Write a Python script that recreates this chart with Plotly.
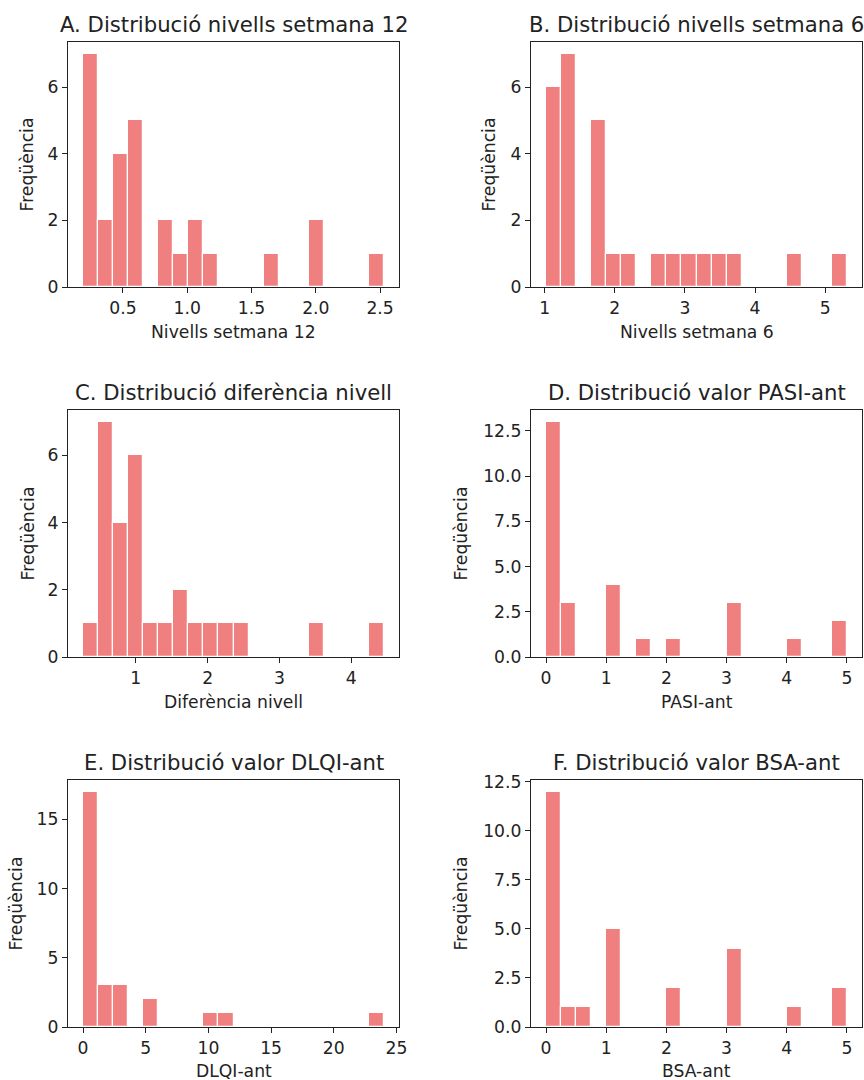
import numpy as np
import plotly.graph_objects as go

# Histogram counts (20 equal bins per variable) and the data range that the bins span
counts_a = [7, 2, 4, 5, 0, 2, 1, 2, 1, 0, 0, 0, 1, 0, 0, 2, 0, 0, 0, 1]
range_a = (0.19, 2.53)
counts_b = [6, 7, 0, 5, 1, 1, 0, 1, 1, 1, 1, 1, 1, 0, 0, 0, 1, 0, 0, 1]
range_b = (1.02, 5.31)
counts_c = [1, 7, 4, 6, 1, 1, 2, 1, 1, 1, 1, 0, 0, 0, 0, 1, 0, 0, 0, 1]
range_c = (0.265, 4.455)
counts_d = [13, 3, 0, 0, 4, 0, 1, 0, 1, 0, 0, 0, 3, 0, 0, 0, 1, 0, 0, 2]
range_d = (0.0, 5.0)
counts_e = [17, 3, 3, 0, 2, 0, 0, 0, 1, 1, 0, 0, 0, 0, 0, 0, 0, 0, 0, 1]
range_e = (0.0, 24.0)
counts_f = [12, 1, 1, 0, 5, 0, 0, 0, 2, 0, 0, 0, 4, 0, 0, 0, 1, 0, 0, 2]
range_f = (0.0, 5.0)

titles = [
    "A. Distribució nivells setmana 12",
    "B. Distribució nivells setmana 6",
    "C. Distribució diferència nivell",
    "D. Distribució valor PASI-ant",
    "E. Distribució valor DLQI-ant",
    "F. Distribució valor BSA-ant",
]
xlabels = ["Nivells setmana 12", "Nivells setmana 6", "Diferència nivell",
           "PASI-ant", "DLQI-ant", "BSA-ant"]
ylabel = "Freqüència"

xticks = [
    ([0.5, 1.0, 1.5, 2.0, 2.5], ["0.5", "1.0", "1.5", "2.0", "2.5"]),
    ([1, 2, 3, 4, 5], ["1", "2", "3", "4", "5"]),
    ([1, 2, 3, 4], ["1", "2", "3", "4"]),
    ([0, 1, 2, 3, 4, 5], ["0", "1", "2", "3", "4", "5"]),
    ([0, 5, 10, 15, 20, 25], ["0", "5", "10", "15", "20", "25"]),
    ([0, 1, 2, 3, 4, 5], ["0", "1", "2", "3", "4", "5"]),
]
yticks = [
    ([0, 2, 4, 6], ["0", "2", "4", "6"]),
    ([0, 2, 4, 6], ["0", "2", "4", "6"]),
    ([0, 2, 4, 6], ["0", "2", "4", "6"]),
    ([0, 2.5, 5, 7.5, 10, 12.5], ["0.0", "2.5", "5.0", "7.5", "10.0", "12.5"]),
    ([0, 5, 10, 15], ["0", "5", "10", "15"]),
    ([0, 2.5, 5, 7.5, 10, 12.5], ["0.0", "2.5", "5.0", "7.5", "10.0", "12.5"]),
]

all_counts = [counts_a, counts_b, counts_c, counts_d, counts_e, counts_f]
all_ranges = [range_a, range_b, range_c, range_d, range_e, range_f]

W, H = 864, 1080
# Plot-area boxes in pixels: (left, right, top, bottom)
cols = [(68, 399), (531, 862)]
rows = [(42, 287), (410, 657), (780, 1027)]
ylab_x = [27, 489, 27, 460, 15, 460]
xlab_shift = [-33, -33, -32]

BAR = "#F08080"
FONT = "DejaVu Sans, sans-serif"
TXT = "#222222"
TICK_SIZE = 17.2
TITLE_SIZE = 21.2

fig = go.Figure()
annotations = []
layout_axes = {}

for i in range(6):
    r, c = divmod(i, 2)
    left, right = cols[c]
    top, bottom = rows[r]
    lo, hi = all_ranges[i]
    counts = np.array(all_counts[i], dtype=float)
    edges = np.linspace(lo, hi, len(counts) + 1)
    centers = (edges[:-1] + edges[1:]) / 2
    width = edges[1] - edges[0]
    span = hi - lo
    ax = "" if i == 0 else str(i + 1)

    fig.add_trace(go.Bar(
        x=centers, y=counts, width=width,
        marker=dict(color=BAR, line=dict(color="white", width=1.2)),
        xaxis="x" + ax, yaxis="y" + ax, showlegend=False,
        hoverinfo="x+y",
    ))

    common = dict(
        showgrid=False, zeroline=False, showline=True, linecolor="#222222",
        linewidth=1.2, mirror=True, ticks="outside", ticklen=5, tickwidth=1.1,
        tickcolor="#222222", tickfont=dict(family=FONT, size=TICK_SIZE, color=TXT),
        automargin=False,
    )
    layout_axes["xaxis" + ax] = dict(
        common, domain=[left / W, right / W], anchor="y" + ax,
        range=[lo - 0.05 * span, hi + 0.05 * span],
        tickvals=xticks[i][0], ticktext=xticks[i][1],
    )
    layout_axes["yaxis" + ax] = dict(
        common, domain=[1 - bottom / H, 1 - top / H], anchor="x" + ax,
        range=[0, counts.max() * 1.05],
        tickvals=yticks[i][0], ticktext=yticks[i][1],
    )

    cx = (left + right) / 2 / W
    annotations.append(dict(
        text=titles[i], x=cx, y=1 - top / H, xref="paper", yref="paper",
        xanchor="center", yanchor="bottom", yshift=3, showarrow=False,
        font=dict(family=FONT, size=TITLE_SIZE, color=TXT),
    ))
    annotations.append(dict(
        text=xlabels[i], x=cx, y=1 - bottom / H, xref="paper", yref="paper",
        xanchor="center", yanchor="top", yshift=xlab_shift[r], showarrow=False,
        font=dict(family=FONT, size=TICK_SIZE, color=TXT),
    ))
    annotations.append(dict(
        text=ylabel, x=ylab_x[i] / W, y=1 - (top + bottom) / 2 / H,
        xref="paper", yref="paper", xanchor="center", yanchor="middle",
        textangle=-90, showarrow=False,
        font=dict(family=FONT, size=TICK_SIZE, color=TXT),
    ))

fig.update_layout(
    width=W, height=H, margin=dict(l=0, r=0, t=0, b=0),
    paper_bgcolor="white", plot_bgcolor="white",
    bargap=0, annotations=annotations, **layout_axes,
)

fig.write_html("out.html")
